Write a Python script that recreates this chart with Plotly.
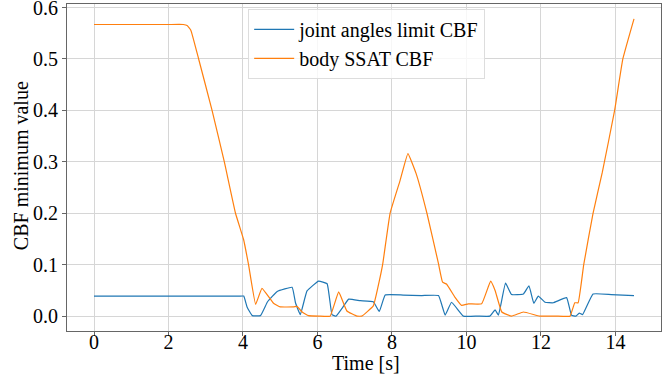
import plotly.graph_objects as go

# joint angles limit CBF
t_joint = [0, 1, 2, 3, 3.9, 4.02, 4.11, 4.25, 4.47, 4.66, 4.92, 5.32, 5.41, 5.54, 5.72,
           6.03, 6.26, 6.39, 6.5, 6.66, 6.84, 7.15, 7.5, 7.66, 7.82, 8.3, 8.8, 9.25,
           9.43, 9.6, 9.92, 10.3, 10.63, 10.77, 10.86, 11.05, 11.21, 11.53, 11.68,
           11.81, 11.93, 12.11, 12.33, 12.69, 12.82, 12.94, 13.03, 13.12, 13.4, 13.89,
           14.5]
v_joint = [0.039, 0.039, 0.039, 0.039, 0.039, 0.039, 0.018, 0.001, 0.001, 0.028, 0.048,
           0.056, 0.026, 0.003, 0.049, 0.068, 0.063, 0.003, 0.0, 0.015, 0.033, 0.030,
           0.028, 0.009, 0.041, 0.041, 0.040, 0.040, 0.002, 0.027, 0.0, 0.0, 0.0, 0.012,
           0.002, 0.064, 0.042, 0.043, 0.059, 0.025, 0.039, 0.027, 0.026, 0.036, 0.002,
           0.0, 0.006, 0.003, 0.043, 0.042, 0.040]

# body SSAT CBF
t_body = [0, 1, 2, 2.4, 2.5, 2.6, 2.81, 3.17, 3.5, 3.8, 4.02, 4.15, 4.34, 4.51, 4.82,
          5.0, 5.36, 5.45, 5.59, 5.76, 6.05, 6.34, 6.57, 6.79, 7.06, 7.19, 7.5, 7.62,
          7.75, 7.95, 8.22, 8.43, 8.65, 8.94, 9.25, 9.36, 9.47, 9.69, 9.87, 10.05,
          10.41, 10.65, 10.77, 10.95, 11.21, 11.53, 11.97, 12.4, 12.78, 12.91, 13.0,
          13.15, 13.4, 13.65, 13.98, 14.2, 14.5]
v_body = [0.567, 0.567, 0.567, 0.567, 0.565, 0.556, 0.5, 0.4, 0.3, 0.2, 0.148, 0.1,
          0.023, 0.054, 0.025, 0.018, 0.018, 0.019, 0.008, 0.001, 0.0, 0.0, 0.047, 0.01,
          0.0, 0.0, 0.02, 0.055, 0.1, 0.2, 0.264, 0.316, 0.277, 0.2, 0.102, 0.066,
          0.062, 0.037, 0.021, 0.024, 0.024, 0.068, 0.05, 0.008, 0.0, 0.008, 0.0, 0.0,
          0.0, 0.026, 0.026, 0.1, 0.2, 0.28, 0.4, 0.5, 0.578]

font = "Liberation Serif, serif"

fig = go.Figure()
fig.add_trace(go.Scatter(x=t_joint, y=v_joint, mode="lines", name="joint angles limit CBF",
                         line=dict(color="#1f77b4", width=1.2, shape="spline", smoothing=0.3)))
fig.add_trace(go.Scatter(x=t_body, y=v_body, mode="lines", name="body SSAT CBF",
                         line=dict(color="#ff7f0e", width=1.2, shape="spline", smoothing=0.3)))

axis_common = dict(showgrid=True, gridcolor="#d6d6d6", gridwidth=1, zeroline=False,
                   showline=True, linecolor="#666666", linewidth=1, mirror=True,
                   ticks="outside", ticklen=4, tickcolor="#666666", automargin=False,
                   ticklabeloverflow="allow",
                   tickfont=dict(family=font, size=20, color="black"))

fig.update_xaxes(range=[-0.725, 15.225], dtick=2, tick0=0, ticklabelstandoff=-11,
                 **axis_common)
fig.update_yaxes(range=[-0.0289, 0.6069], tickvals=[0, 0.1, 0.2, 0.3, 0.4, 0.5, 0.6],
                 tickformat=".1f", **axis_common)

# axis titles placed by hand
fig.add_annotation(text="Time [s]", xref="paper", yref="paper", x=0.503, y=-0.097,
                   xanchor="center", yanchor="middle", showarrow=False,
                   font=dict(family=font, size=20, color="black"))
fig.add_annotation(text="CBF minimum value", xref="paper", yref="paper", x=-0.077, y=0.505,
                   xanchor="center", yanchor="middle", showarrow=False, textangle=-90,
                   font=dict(family=font, size=20, color="black"))

fig.update_layout(
    width=668, height=377,
    margin=dict(l=67, r=7, t=4, b=46),
    plot_bgcolor="white", paper_bgcolor="white",
    font=dict(family=font, color="black"),
    legend=dict(x=0.305, y=0.985, xanchor="left", yanchor="top",
                bgcolor="rgba(255,255,255,0.8)", bordercolor="#dddddd", borderwidth=1,
                font=dict(family=font, size=20, color="black"),
                tracegroupgap=0, itemwidth=40),
    showlegend=True,
)

# drop the page's default body margin so the figure sits at the window's corner
fig.write_html("out.html", config={"displayModeBar": False},
               post_script="document.body.style.margin='0';")
